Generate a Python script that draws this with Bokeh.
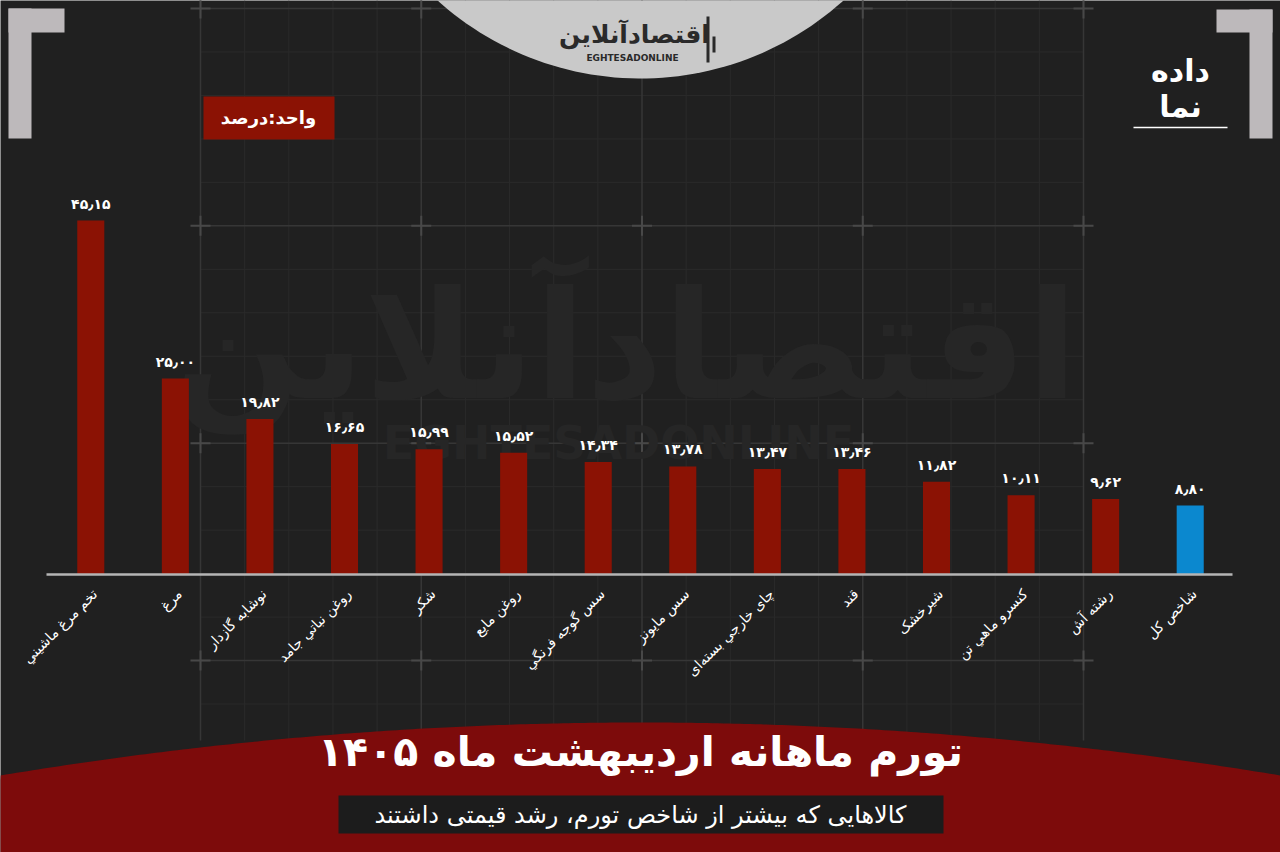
import re
import numpy as np
from bokeh.plotting import figure
from bokeh.models import ColumnDataSource, FactorRange, Range1d
from bokeh.embed import file_html
from bokeh.resources import INLINE
from bokeh.core.properties import value

# ---------------- data ----------------
categories = ["تخم مرغ ماشيني", "مرغ", "نوشابه گازدار", "روغن نباتي جامد", "شکر", "روغن مایع",
              "سس گوجه فرنگي", "سس مایونز", "چای خارجي بسته‌ای", "قند", "شیرخشک",
              "کنسرو ماهي تن", "رشته آش", "شاخص کل"]
values = [45.15, 25.00, 19.82, 16.65, 15.99, 15.52, 14.34, 13.78, 13.47, 13.46, 11.82, 10.11, 9.62, 8.80]
highlight = "شاخص کل"
title_text = "تورم ماهانه اردیبهشت ماه ۱۴۰۵"
subtitle_text = "کالاهایی که بیشتر از شاخص تورم، رشد قیمتی داشتند"
unit_text = "واحد:درصد"

# ---------------- styling ----------------
BG = "#202020"
RED = "#8b1204"
BLUE = "#0b88cf"
BAND = "#7d0b0b"
FONT = value("DejaVu Sans")

FA = str.maketrans("0123456789.", "۰۱۲۳۴۵۶۷۸۹٫")
labels = [f"{v:.2f}".translate(FA) for v in values]
colors = [BLUE if c == highlight else RED for c in categories]

W, H = 1280, 852
n = len(categories)
XPAD = 0.5676
KX = W / (n + 2 * XPAD)
BASE = 574.0
KY = 7.84


def X(px):
    return -XPAD + px / KX


def Y(py):
    return (BASE - py) / KY


p = figure(width=W, height=H,
           x_range=FactorRange(factors=categories, range_padding=XPAD, range_padding_units="absolute"),
           y_range=Range1d(Y(H), Y(0)),
           output_backend="svg", toolbar_location=None, min_border=0,
           x_axis_location=None, y_axis_location=None,
           background_fill_color=BG, border_fill_color=BG, outline_line_color=None)
p.grid.visible = False

# ---------------- background grid ----------------
gx = [200 + 44.15 * i for i in range(21)]
gy = [8 + 43.47 * j for j in range(17)]
minor_v = [x for i, x in enumerate(gx) if i % 5]
major_v = [x for i, x in enumerate(gx) if i % 5 == 0]
minor_h = [y for j, y in enumerate(gy) if j % 5]
major_h = [y for j, y in enumerate(gy) if j % 5 == 0]
p.segment(x0=[X(x) for x in minor_v], x1=[X(x) for x in minor_v],
          y0=[Y(0)] * len(minor_v), y1=[Y(740)] * len(minor_v), line_color="#2a2a2a", line_width=1)
p.segment(x0=[X(200)] * len(minor_h), x1=[X(1083)] * len(minor_h),
          y0=[Y(y) for y in minor_h], y1=[Y(y) for y in minor_h], line_color="#2a2a2a", line_width=1)
p.segment(x0=[X(x) for x in major_v], x1=[X(x) for x in major_v],
          y0=[Y(0)] * len(major_v), y1=[Y(740)] * len(major_v), line_color="#363636", line_width=1.5)
p.segment(x0=[X(200)] * len(major_h), x1=[X(1083)] * len(major_h),
          y0=[Y(y) for y in major_h], y1=[Y(y) for y in major_h], line_color="#363636", line_width=1.5)
cx = [X(x) for x in major_v for _ in major_h]
cy = [Y(y) for _ in major_v for y in major_h]
p.scatter(x=cx, y=cy, marker="cross", size=20, line_color="#484848", line_width=2)

# ---------------- watermark ----------------
p.text(x=[X(625)], y=[Y(345)], text=["اقتصادآنلاین"], text_font=FONT, text_font_style="bold",
       text_font_size="150px", text_color="#262626", text_align="center", text_baseline="middle")
p.text(x=[X(618)], y=[Y(442)], text=["EGHTESADONLINE"], text_font=FONT, text_font_style="bold",
       text_font_size="46px", text_color="#262626", text_align="center", text_baseline="middle")

# ---------------- top logo circle ----------------
t = np.linspace(0, 2 * np.pi, 240)
p.patch(x=[X(640 + 303 * np.cos(a)) for a in t], y=[Y(-225 + 303 * np.sin(a)) for a in t],
        fill_color="#c9c9c9", line_color=None)
p.text(x=[X(634)], y=[Y(34)], text=["اقتصادآنلاین"], text_font=FONT, text_font_style="bold",
       text_font_size="25px", text_color="#2a2a2a", text_align="center", text_baseline="middle")
p.text(x=[X(632)], y=[Y(57)], text=["EGHTESADONLINE"], text_font=FONT, text_font_style="bold",
       text_font_size="9px", text_color="#2a2a2a", text_align="center", text_baseline="middle")
p.quad(left=[X(706), X(712)], right=[X(709), X(715)], top=[Y(16), Y(36)], bottom=[Y(62), Y(52)],
       fill_color="#2a2a2a", line_color=None)

# ---------------- corner brackets ----------------
p.quad(left=[X(8), X(8), X(1216), X(1249)], right=[X(64), X(31), X(1272), X(1272)],
       top=[Y(8), Y(8), Y(9), Y(9)], bottom=[Y(32), Y(138), Y(32), Y(138)],
       fill_color="#bdb9bb", line_color=None)

# right logo
p.text(x=[X(1180), X(1180)], y=[Y(70), Y(106)], text=["داده", "نما"], text_font=FONT,
       text_font_style="bold", text_font_size="30px", text_color="white",
       text_align="center", text_baseline="middle")
p.segment(x0=[X(1133)], x1=[X(1227)], y0=[Y(127)], y1=[Y(127)], line_color="white", line_width=1.5)

# unit box
p.quad(left=[X(203)], right=[X(334)], top=[Y(96)], bottom=[Y(139)], fill_color=RED, line_color=None)
p.text(x=[X(268)], y=[Y(117)], text=[unit_text], text_font=FONT, text_font_style="bold",
       text_font_size="18px", text_color="white", text_align="center", text_baseline="middle")

# ---------------- bars ----------------
src = ColumnDataSource(dict(cat=categories, val=values, lab=labels, col=colors))
p.vbar(x="cat", top="val", bottom=0, width=0.32, fill_color="col", line_color=None, source=src)
p.text(x="cat", y="val", text="lab", source=src, y_offset=-9, text_font=FONT, text_font_style="bold",
       text_font_size="14px", text_color="white", text_align="center", text_baseline="bottom")

# baseline
p.segment(x0=[X(46)], x1=[X(1232)], y0=[0], y1=[0], line_color="#b5b5b5", line_width=2.5)

# category labels
p.text(x="cat", y=0, text="cat", source=src, angle=np.pi / 4, x_offset=4, y_offset=17,
       text_font=FONT, text_font_size="14px", text_color="white",
       text_align="right", text_baseline="middle")

# ---------------- bottom band ----------------
R = 3891.0
bx = np.linspace(0, 1280, 240)
by = 722 + R - np.sqrt(R ** 2 - (bx - 640) ** 2)
p.patch(x=[X(v) for v in bx] + [X(1290), X(-10)], y=[Y(v) for v in by] + [Y(870), Y(870)],
        fill_color=BAND, line_color=None)
p.text(x=[X(640)], y=[Y(751)], text=[title_text], text_font=FONT, text_font_style="bold",
       text_font_size="41px", text_color="white", text_align="center", text_baseline="middle")
p.quad(left=[X(338)], right=[X(943)], top=[Y(795)], bottom=[Y(833)], fill_color="#1c1c1c", line_color=None)
p.text(x=[X(640)], y=[Y(814)], text=[subtitle_text], text_font=FONT,
       text_font_size="24px", text_color="white", text_align="center", text_baseline="middle")

html = file_html(p, INLINE, title="تورم ماهانه")
html = re.sub(r"<body([^>]*)>", r'<body\1 style="margin:0;background:#202020;overflow:hidden;">', html, count=1)
open("out.html", "w").write(html)
